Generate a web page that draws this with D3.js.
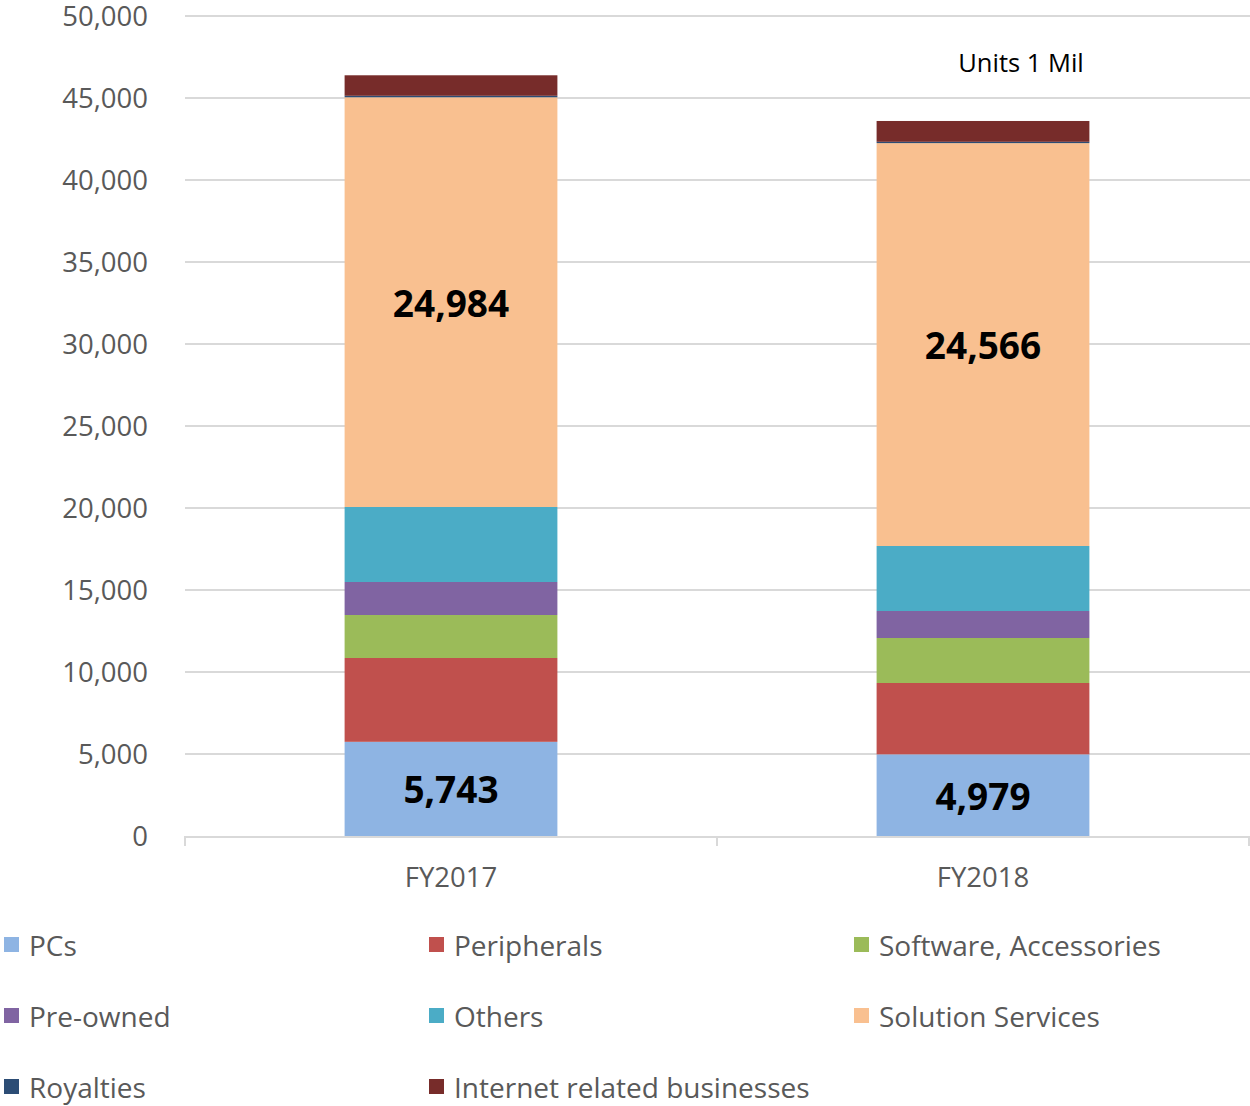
<!DOCTYPE html>
<html><head><meta charset="utf-8">
<script src="https://cdn.jsdelivr.net/npm/d3@7"></script>
<style>body{margin:0;background:#fff}svg{display:block}</style>
</head><body>
<script>
const categories = ["FY2017", "FY2018"];
const seriesNames = ["PCs", "Peripherals", "Software, Accessories", "Pre-owned", "Others", "Solution Services", "Royalties", "Internet related businesses"];
const seriesColors = ["#8eb4e3", "#c0504d", "#9bbb59", "#8064a2", "#4bacc6", "#f9c090", "#2c4d75", "#772c2a"];
const pcs = [5743, 4979];
const peripherals = [5111, 4350];
const software = [2622, 2744];
const preowned = [2012, 1647];
const others = [4573, 3963];
const solution = [24984, 24566];
const royalties = [90, 80];
const internet = [1250, 1270];
const yTicks = [0, 5000, 10000, 15000, 20000, 25000, 30000, 35000, 40000, 45000, 50000];
const labeledSeries = {0: pcs, 5: solution};

const seriesValues = [pcs, peripherals, software, preowned, others, solution, royalties, internet];
const W = 1250, H = 1106;
const font = "'Open Sans', sans-serif";
const svg = d3.select("body").append("svg").attr("width", W).attr("height", H);
const mLeft = 185, mRight = 1249, mTop = 16, mBottom = 836;
const x = d3.scaleBand().domain(categories).range([mLeft, mRight]).paddingInner(0).paddingOuter(0);
const y = d3.scaleLinear().domain([0, 50000]).range([mBottom, mTop]);

// grid
svg.append("g").selectAll("line").data(yTicks.filter(d => d > 0)).join("line")
  .attr("x1", mLeft).attr("x2", W).attr("y1", d => y(d)).attr("y2", d => y(d))
  .attr("stroke", "#d9d9d9").attr("stroke-width", 2);

// y labels
const yAxis = d3.axisLeft(y).tickValues(yTicks).tickSize(0).tickPadding(37).tickFormat(d3.format(","));
const ya = svg.append("g").attr("transform", `translate(${mLeft},0)`).call(yAxis);
ya.select(".domain").remove();
ya.selectAll("text").attr("font-family", font).attr("font-size", 27.5).attr("fill", "#595959").attr("dy", "0.36em");

// stacked
const table = categories.map((c, i) => { const o = {cat: c}; seriesNames.forEach((s, j) => o[s] = seriesValues[j][i]); return o; });
const stack = d3.stack().keys(seriesNames)(table);
const bw = x.bandwidth() * 0.4;
svg.append("g").selectAll("g").data(stack).join("g").attr("fill", (d, i) => seriesColors[i])
  .selectAll("rect").data(d => d).join("rect")
  .attr("x", d => x(d.data.cat) + (x.bandwidth() - bw) / 2)
  .attr("width", bw)
  .attr("y", d => y(d[1])).attr("height", d => y(d[0]) - y(d[1]));

// x axis
const xAxis = d3.axisBottom(x).tickSize(0).tickPadding(31);
const xa = svg.append("g").attr("transform", `translate(0,${mBottom})`).call(xAxis);
xa.select(".domain").remove();
xa.selectAll("text").attr("font-family", font).attr("font-size", 27.5).attr("fill", "#595959");
svg.append("line").attr("x1", mLeft).attr("x2", mRight).attr("y1", mBottom + 1).attr("y2", mBottom + 1).attr("stroke", "#d9d9d9").attr("stroke-width", 2);
const bounds = [mLeft, ...categories.map(c => x(c) + x.bandwidth())];
svg.append("g").selectAll("line").data(bounds).join("line")
  .attr("x1", d => d).attr("x2", d => d).attr("y1", mBottom).attr("y2", mBottom + 10)
  .attr("stroke", "#d9d9d9").attr("stroke-width", 2);

// data labels
Object.keys(labeledSeries).forEach(k => {
  const s = stack[+k];
  svg.append("g").selectAll("text").data(s).join("text")
    .attr("x", d => x(d.data.cat) + x.bandwidth() / 2)
    .attr("y", d => (y(d[0]) + y(d[1])) / 2)
    .attr("text-anchor", "middle").attr("dominant-baseline", "central")
    .attr("font-family", font).attr("font-weight", "bold").attr("font-size", 37).attr("fill", "#000")
    .text(d => d3.format(",")(d[1] - d[0]));
});

svg.append("text").attr("x", 1021).attr("y", 62).attr("text-anchor", "middle").attr("dominant-baseline", "central")
  .attr("font-family", font).attr("font-size", 25.5).attr("fill", "#000").text("Units 1 Mil");

// legend
const lg = svg.append("g").selectAll("g").data(seriesNames).join("g")
  .attr("transform", (d, i) => `translate(${4 + (i % 3) * 425},${945 + Math.floor(i / 3) * 71})`);
lg.append("rect").attr("x", 0).attr("y", -8).attr("width", 15).attr("height", 15).attr("fill", (d, i) => seriesColors[i]);
lg.append("text").attr("x", 25).attr("y", 0).attr("dominant-baseline", "central")
  .attr("font-family", font).attr("font-size", 28).attr("fill", "#595959").text(d => d);
</script>
</body></html>
